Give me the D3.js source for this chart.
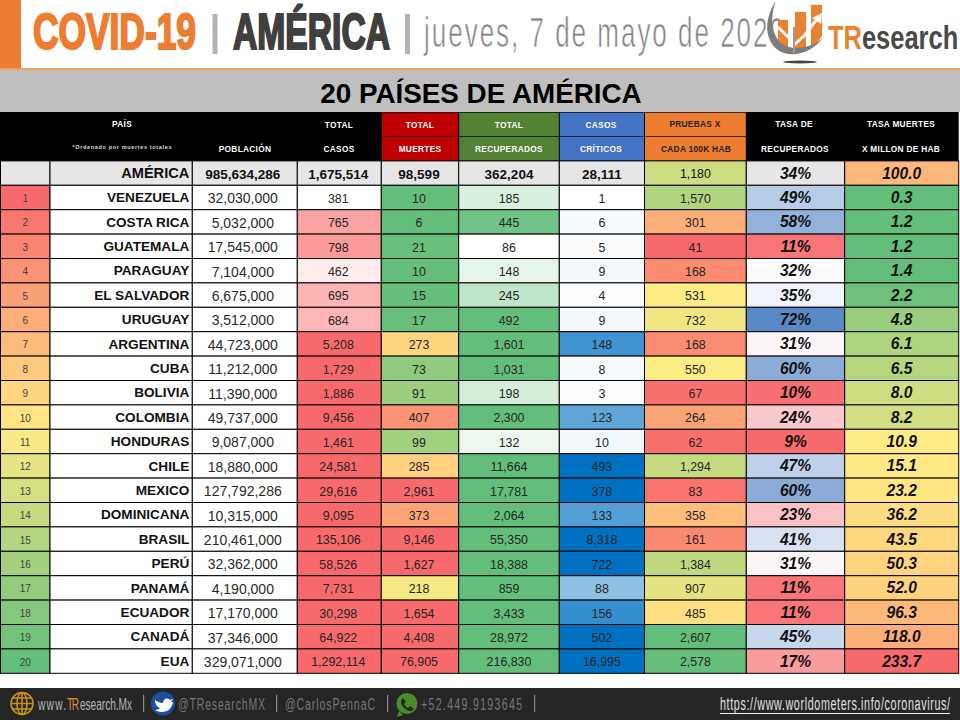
<!DOCTYPE html>
<html><head><meta charset="utf-8">
<script src="https://cdn.jsdelivr.net/npm/d3@7/dist/d3.min.js"></script>
<style>html,body{margin:0;padding:0;background:#fff}svg{display:block}text{font-family:"Liberation Sans",Arial,sans-serif}</style>
</head><body><div id="c"></div>
<script>
const paises=["AMÉRICA","VENEZUELA","COSTA RICA","GUATEMALA","PARAGUAY","EL SALVADOR","URUGUAY","ARGENTINA","CUBA","BOLIVIA","COLOMBIA","HONDURAS","CHILE","MEXICO","DOMINICANA","BRASIL","PERÚ","PANAMÁ","ECUADOR","CANADÁ","EUA"];
const ranking=[null,1,2,3,4,5,6,7,8,9,10,11,12,13,14,15,16,17,18,19,20];
const poblacion=[985634286,32030000,5032000,17545000,7104000,6675000,3512000,44723000,11212000,11390000,49737000,9087000,18880000,127792286,10315000,210461000,32362000,4190000,17170000,37346000,329071000];
const casos=[1675514,381,765,798,462,695,684,5208,1729,1886,9456,1461,24581,29616,9095,135106,58526,7731,30298,64922,1292114];
const muertes=[98599,10,6,21,10,15,17,273,73,91,407,99,285,2961,373,9146,1627,218,1654,4408,76905];
const recuperados=[362204,185,445,86,148,245,492,1601,1031,198,2300,132,11664,17781,2064,55350,18388,859,3433,28972,216830];
const criticos=[28111,1,6,5,9,4,9,148,8,3,123,10,493,378,133,8318,722,88,156,502,16995];
const pruebas=[1180,1570,301,41,168,531,732,168,550,67,264,62,1294,83,358,161,1384,907,485,2607,2578];
const tasaRecuperados=[34,49,58,11,32,35,72,31,60,10,24,9,47,60,23,41,31,11,11,45,17];
const tasaMuertes=[100.0,0.3,1.2,1.2,1.4,2.2,4.8,6.1,6.5,8.0,8.2,10.9,15.1,23.2,36.2,43.5,50.3,52.0,96.3,118.0,233.7];

const RED="#f8696b",YEL="#ffeb84",GRN="#63be7b",GREY="#e7e6e6";
const W=960,H=720;
const svg=d3.select("#c").append("svg").attr("width",W).attr("height",H).attr("viewBox",[0,0,W,H]);

const edges=[0.5,50,192.3,297.3,381.3,458.7,559.3,644.5,746.3,844.7,958.7];
const y=d3.scaleBand().domain(d3.range(paises.length)).range([160.9,673.3]);
const num=d3.format(",");
const C=(d,r)=>d3.scaleLinear().domain(d).range(r).clamp(true);

const columns=[
 {v:ranking,f:d=>d==null?"":d,color:C([1,10.5,20],[RED,YEL,GRN]),size:10,fill:"#444",anchor:"middle"},
 {v:paises,f:d=>d,color:()=>"#fff",size:13.6,weight:"bold",fill:"#111",anchor:"end",dy:-1},
 {v:poblacion,f:num,color:()=>"#fff",size:14,fill:"#2b2b2b",dx:-2},
 {v:casos,f:num,color:C([381,1000],["#ffffff",RED]),size:12.4,dx:-1},
 {v:muertes,f:num,color:C([12,230,490],[GRN,YEL,RED]),size:12.4,dx:-1},
 {v:recuperados,f:num,color:C([86,480],["#ffffff",GRN]),size:12.4},
 {v:criticos,f:num,color:C([1,197],["#ffffff","#0070c0"]),size:12.4},
 {v:pruebas,f:num,color:C([41,530,2607],[RED,YEL,GRN]),size:12.4,colorTotal:true},
 {v:tasaRecuperados,f:d=>d+"%",color:C([9,32,72],[RED,"#fcfcff","#5a8ac6"]),size:15.6,weight:"bold",style:"italic",fill:"#111",dy:-1},
 {v:tasaMuertes,f:d3.format(".1f"),color:C([1.5,10.9,233.7],[GRN,YEL,RED]),size:15.6,weight:"bold",style:"italic",fill:"#111",dy:-1,colorTotal:true}
];

/* condensed text: glyphs squeezed by sx, then spread out to span the given width */
const NARROW='"Liberation Sans Narrow","Liberation Sans",sans-serif';
function cond(t,x,base,width,size,sx,fill){
  return svg.append("g").attr("transform",`translate(${x},${base}) scale(${sx},1)`)
    .append("text").text(t).attr("textLength",width/sx).attr("lengthAdjust","spacing")
    .attr("font-size",size).attr("fill",fill).style("font-family",NARROW);
}

/* banner */
svg.append("rect").attr("width",21).attr("height",68).attr("fill","#ed7d31");
svg.append("rect").attr("y",68).attr("width",W).attr("height",2).attr("fill","#f0a060");
svg.append("rect").attr("y",70).attr("width",W).attr("height",42).attr("fill","#bfbfbf");
function bigT(t,x,w,fill){
  const g=svg.append("g");
  const s=g.append("text").text(t).attr("font-size",50).attr("font-weight","bold").attr("fill",fill).attr("stroke",fill).attr("stroke-width",2.2).style("font-family",NARROW);
  g.attr("transform",`translate(${x},48.5) scale(${w/s.node().getComputedTextLength()},1)`);
}
bigT("COVID-19",33,163,"#ed7d31");
bigT("AMÉRICA",233,157,"#404040");
[212.5,405].forEach(x=>svg.append("rect").attr("x",x).attr("y",14).attr("width",5).attr("height",40).attr("fill","#b3b3b3"));
cond("jueves, 7 de mayo de 2020",424,47,360,42,0.62,"#858585").attr("stroke","#fff").attr("stroke-width",0.7);

/* logo */
const logo=svg.append("g");
logo.append("path").attr("d","M778 20h10v30h-10zM795 12h11v38h-11zM811 5h11v31q-5 8-11 11z").attr("fill","#e9812f");
logo.append("path").attr("d","M778 27L795 44L804 36L817 19").attr("fill","none").attr("stroke","#fff").attr("stroke-width",3);
logo.append("path").attr("d","M812 18l10-5-1 11z").attr("fill","#fff");
logo.append("path").attr("d","M776 1C764 18 764 40 778 50C791 59 812 53 823 38C811 48 792 52 781 43C771 34 770 16 776 1z").attr("fill","#7d7d7d");
logo.append("rect").attr("x",793).attr("y",27).attr("width",2).attr("height",26).attr("fill","#999");
logo.append("ellipse").attr("cx",800).attr("cy",62).attr("rx",17).attr("ry",1.4).attr("fill","#444");
const lg=svg.append("g").attr("transform","translate(828,49) scale(0.75,1)").attr("font-size",34).attr("font-weight","bold");
lg.append("text").text("TR").attr("fill","#e9812f");
lg.append("text").text("esearch").attr("x",45.2).attr("fill","#4a4a4a");

svg.append("text").text("20 PAÍSES DE AMÉRICA").attr("x",481).attr("y",102.5).attr("text-anchor","middle").attr("font-size",27.8).attr("font-weight","bold").attr("fill","#000");

/* header */
svg.append("rect").attr("y",112).attr("width",958.7).attr("height",49.5).attr("fill","#000");
const headFills=[{i:4,c:"#c00000"},{i:5,c:"#548235"},{i:6,c:"#4472c4"},{i:7,c:"#ed7d31"}];
headFills.forEach(({i,c})=>[112.7,137].forEach(t=>svg.append("rect").attr("x",edges[i]+.5).attr("y",t).attr("width",edges[i+1]-edges[i]-1).attr("height",23.6).attr("fill",c)));
const heads=[["PAÍS",122,124.5,"#fff"],["TOTAL",339,125,"#fff"],["TOTAL",420,125,"#fff"],["TOTAL",509,125,"#fff"],["CASOS",601,125,"#fff"],["PRUEBAS X",695,124.5,"#222"],["TASA DE",794,124.5,"#fff"],["TASA MUERTES",901,124.5,"#fff"],
 ["POBLACIÓN",245,149,"#fff"],["CASOS",339,149,"#fff"],["MUERTES",420,149,"#fff"],["RECUPERADOS",509,149,"#fff"],["CRÍTICOS",601,149,"#fff"],["CADA 100K HAB",696,149,"#222"],["RECUPERADOS",795,149,"#fff"],["X MILLON DE HAB",901,149,"#fff"]];
svg.append("g").selectAll("text").data(heads).join("text").text(d=>d[0]).attr("x",d=>d[1]).attr("y",d=>d[2]).attr("dy","0.35em").attr("text-anchor","middle").attr("font-size",8.3).attr("font-weight","bold").attr("letter-spacing",0.3).attr("fill",d=>d[3]);
svg.append("text").text("*Ordenado por muertes totales").attr("x",122).attr("y",149).attr("text-anchor","middle").attr("textLength",99).attr("font-size",5.6).attr("font-weight","bold").attr("fill","#ddd");

/* table */
columns.forEach((col,ci)=>{
  const g=svg.append("g");
  const x0=edges[ci],x1=edges[ci+1];
  const row=g.selectAll("g").data(col.v).join("g");
  row.append("rect").attr("x",x0).attr("y",(d,i)=>y(i)).attr("width",x1-x0).attr("height",y.bandwidth())
     .attr("fill",(d,i)=>i===0&&!col.colorTotal?GREY:col.color(d)).attr("stroke","#000").attr("stroke-width",1);
  row.append("text").text(col.f)
     .attr("x",col.anchor==="end"?x1-3:(x0+x1)/2+(col.dx||0)).attr("y",(d,i)=>y(i)+y.bandwidth()/2+1+(col.dy||0)).attr("dy","0.35em")
     .attr("text-anchor",col.anchor||"middle")
     .attr("font-size",(d,i)=>i===0&&ci>=2&&ci<=6?13.5:(i===0&&ci===1?14.6:col.size))
     .attr("font-weight",(d,i)=>i===0&&ci>=1&&ci<=6?"bold":(col.weight||null))
     .attr("font-style",col.style||null)
     .attr("fill",(d,i)=>i===0?"#111":(col.fill||"#262626"));
});

/* footer */
svg.append("rect").attr("y",688).attr("width",W).attr("height",32).attr("fill","#262626");
const globe=svg.append("g").attr("transform","translate(22,703.5)").attr("fill","none").attr("stroke","#c8921c").attr("stroke-width",1.6);
globe.append("circle").attr("r",11);globe.append("ellipse").attr("rx",5).attr("ry",11);
globe.append("path").attr("d","M0-11V11M-11 0H11M-9.5-5.5H9.5M-9.5 5.5H9.5");
cond("www.",38,710,28,17,0.6,"#b5b5b5");
cond("TR",67,710,12,17,0.6,"#d98a3a");
cond("esearch.Mx",80,710,52,17,0.6,"#b5b5b5");
svg.append("circle").attr("cx",163).attr("cy",703.5).attr("r",12).attr("fill","#1c4f9e");
svg.append("path").attr("d","M155 700c3 2 5 3 8 3 0-4 4-6 7-3l3-1-2 3 2 0c-1 6-5 10-11 10-3 0-5-1-7-2 2 0 4-1 5-2-3-1-5-4-5-8z").attr("fill","#fff");
[["@TResearchMX",178,87],["@CarlosPennaC",285,90],["+52.449.9193645",421,101]].forEach(d=>cond(d[0],d[1],709.5,d[2],17,0.62,"#767676"));
[143,276,387,534].forEach(x=>svg.append("rect").attr("x",x).attr("y",695).attr("width",1.2).attr("height",17).attr("fill","#8a8a8a"));
svg.append("path").attr("d","M399 711l-2 6 6-2z").attr("fill","#4a8c2a");
svg.append("circle").attr("cx",407).attr("cy",703.500).attr("r",10.500).attr("fill","#4a8c2a");
svg.append("path").attr("d","M403 698l3 4-2 2c1 2 2 3 4 4l2-2 4 3c-2 2-4 3-7 1-3-2-6-5-6-8 0-2 1-3 2-4z").attr("fill","#1f2a18");
cond("https://www.worldometers.info/coronavirus/",720,710,230,18,0.6,"#e0e0e0");
svg.append("rect").attr("x",720).attr("y",713).attr("width",230).attr("height",1).attr("fill","#eee");
</script></body></html>
